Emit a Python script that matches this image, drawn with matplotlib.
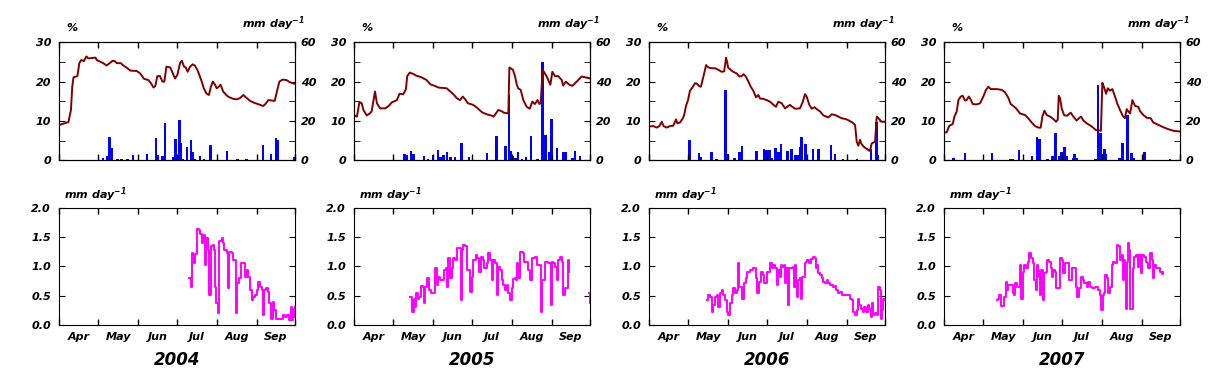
import numpy as np
import matplotlib
matplotlib.use("Agg")
import matplotlib.pyplot as plt

plt.rcParams["font.family"] = ["DejaVu Sans"]
plt.rcParams["font.weight"] = "bold"
plt.rcParams["font.style"] = "italic"
plt.rcParams["mathtext.fontset"] = "dejavusans"

years = ["2004", "2005", "2006", "2007"]
months = ["Apr", "May", "Jun", "Jul", "Aug", "Sep"]
month_edges = [0, 30, 61, 91, 122, 153, 183]

# soil moisture (%), day counted from 1 April
sm_day = {
    "2004": [0, 7, 9, 10, 11, 14, 15.5, 17, 19, 21, 22.5, 28, 29, 31.5, 34, 36.7, 39, 41.4, 43, 44.5, 47.6, 49.6,
             52, 55, 60, 62.6, 65.7, 69, 71, 73, 74.4, 76, 78, 80, 81.4, 83, 86, 88, 89.7, 91.5, 93.6, 95, 96.7,
             98, 99.5, 101.3, 103.4, 105, 107, 109, 110.4, 112, 114, 116, 117.4, 119, 120.7, 122, 123.3, 125,
             127, 130, 132, 135, 137.5, 140, 142.7, 145, 148, 150.4, 153, 155.6, 158, 159.5, 162, 164.7, 167,
             169, 170.6, 173, 176, 179, 183],
    "2005": [0, 2, 3.9, 5.7, 7, 9.6, 12, 13.4, 16, 17.5, 20, 24, 26.6, 29, 33, 35, 38, 40, 41, 43, 46, 48, 52, 56,
             59, 62.5, 65, 71.6, 74, 76.8, 79.4, 82, 84, 86, 88, 92, 95, 99, 102.6, 107, 108, 111.7, 114, 116,
             119.4, 120.2, 123, 124.6, 126, 127, 129, 131, 133.6, 136, 138, 140, 142, 143.5, 144.5, 146, 149,
             152, 153.5, 155.6, 158, 160.8, 162, 164, 166.7, 169, 172.4, 176.3, 179, 183],
    "2006": [0, 3, 5.7, 7.8, 9.6, 11, 13.4, 16, 18.6, 20.7, 21.7, 23.8, 26, 27, 28.4, 30, 31.5, 33.6, 35.4, 36.7,
             38.5, 40, 42, 44, 45.8, 48.3, 51, 53.5, 56, 58, 59.5, 60.5, 61, 63, 65, 67.7, 69.8, 71.6, 73, 74.6,
             76.8, 78.6, 80.6, 82.7, 84.5, 85.8, 88.4, 91, 93.6, 96.2, 98.2, 100, 102.6, 105.2, 109, 110.4, 113,
             116.8, 119, 120.7, 122, 124, 125.9, 128, 129.8, 132.4, 135, 138.8, 141.4, 144, 146.6, 149, 153, 157,
             159.5, 160.8, 162, 163.4, 164.2, 166, 168.5, 170.6, 171.4, 172.4, 175, 176.3, 177.6, 180, 183],
    "2007": [0, 1.8, 3.9, 6.5, 7.8, 9.6, 10.9, 12.7, 14.2, 16, 17.3, 19, 20.7, 22, 25, 27.7, 30.2, 32.3, 34.1, 36,
             40.6, 44.5, 47, 49.6, 51.4, 53.5, 55.6, 58.7, 62.6, 65, 67.7, 70.3, 72.9, 74.7, 76, 77.6, 79.4, 82,
             84.5, 86.6, 87.9, 88.7, 89.7, 91, 92.8, 95, 98, 100, 102.6, 104.4, 106, 107.8, 110.4, 114.3, 117.4,
             121.4, 122.5, 123.8, 125.4, 126.7, 128.5, 130.3, 132.3, 134.2, 136.2, 138.3, 140, 141.4, 142.7, 144,
             145.8, 147.9, 150.4, 151.7, 154.3, 157, 160, 162, 166, 169.8, 173.7, 177.6, 183],
}
sm_val = {
    "2004": [9.0, 9.7, 12.8, 18.7, 21.1, 21.4, 24.7, 25.5, 25.2, 26.4, 25.9, 26.1, 25.5, 25.1, 24.7, 24.1, 24.7,
             25.3, 25.2, 24.7, 24.7, 24.1, 23.6, 22.8, 22.7, 22.1, 20.7, 20.4, 19.6, 18.5, 18.9, 21.4, 21.4, 20.0,
             20.0, 23.8, 23.6, 22.1, 20.8, 21.7, 24.7, 25.3, 23.8, 23.6, 22.5, 23.8, 24.4, 24.1, 23.0, 21.3, 20.0,
             18.3, 17.0, 16.6, 18.6, 20.0, 19.2, 18.3, 18.6, 19.2, 17.5, 16.4, 16.0, 15.6, 15.5, 15.8, 16.6, 15.9,
             15.1, 14.7, 14.4, 14.1, 13.8, 14.2, 15.3, 15.2, 15.1, 17.9, 20.0, 20.5, 20.4, 19.8, 19.4],
    "2005": [11.4, 11.1, 14.7, 14.5, 12.8, 11.4, 11.9, 12.4, 17.5, 14.5, 13.2, 13.2, 13.8, 14.7, 15.3, 16.9, 16.8,
             18.1, 21.4, 22.3, 21.9, 21.5, 21.1, 20.4, 19.3, 18.9, 18.5, 18.3, 17.6, 16.8, 15.8, 15.3, 16.2, 15.5,
             14.5, 14.1, 13.4, 12.2, 11.7, 11.3, 11.1, 12.8, 12.5, 12.1, 11.9, 23.6, 23.0, 21.3, 19.2, 18.3, 17.9,
             15.3, 13.6, 13.1, 14.9, 14.3, 15.3, 14.3, 14.6, 23.0, 21.4, 19.2, 22.5, 21.4, 21.4, 20.4, 19.0, 20.0,
             19.2, 18.9, 20.0, 21.3, 21.1, 20.8],
    "2006": [8.6, 8.7, 8.3, 8.7, 9.8, 8.7, 8.3, 8.7, 8.8, 10.4, 9.4, 9.6, 10.7, 11.5, 13.8, 15.3, 17.7, 18.6, 19.6,
             19.5, 18.9, 18.7, 21.4, 24.2, 23.6, 23.4, 23.4, 23.0, 22.5, 22.6, 26.1, 24.7, 23.6, 23.0, 22.5, 22.1,
             21.3, 21.4, 21.9, 21.4, 20.0, 18.7, 17.7, 16.0, 16.6, 15.7, 15.6, 15.3, 14.9, 14.1, 13.6, 14.9, 14.5,
             13.2, 14.1, 13.7, 13.1, 13.2, 14.9, 16.8, 16.2, 14.1, 13.1, 13.5, 13.0, 12.4, 11.4, 10.9, 11.7, 11.5,
             11.1, 10.7, 10.4, 9.7, 9.0, 4.7, 3.7, 5.2, 4.3, 3.5, 2.9, 2.4, 2.8, 4.3, 4.7, 11.1, 10.7, 9.8, 9.8],
    "2007": [7.1, 7.1, 8.8, 9.2, 11.1, 12.4, 15.3, 16.2, 16.4, 15.2, 15.3, 16.2, 15.3, 14.3, 14.2, 14.5, 16.2, 17.9,
             18.7, 18.1, 18.1, 17.9, 17.3, 15.9, 14.3, 13.8, 13.2, 11.9, 11.5, 10.7, 9.6, 8.7, 8.3, 8.3, 11.1, 12.6,
             11.5, 11.1, 10.5, 9.8, 10.3, 16.4, 15.8, 13.2, 11.5, 11.3, 12.1, 11.1, 10.1, 10.7, 11.1, 10.1, 9.4, 8.6,
             7.7, 7.5, 19.7, 18.6, 16.9, 18.3, 17.7, 18.1, 16.2, 14.3, 12.8, 11.3, 10.7, 13.0, 12.4, 11.9, 15.3,
             13.8, 13.6, 12.5, 11.5, 10.8, 10.7, 9.6, 9.0, 8.4, 7.9, 7.5, 7.3],
}

# precipitation (mm day-1)
rain_day = {
    "2004": [34, 37, 39, 40.5, 45, 48, 53, 57, 68, 75, 76.5, 80, 82, 88.5, 90, 93, 94, 96, 99, 102, 103.5, 105,
             109, 112, 117, 130, 138, 145, 158, 164, 168, 169.5, 182],
    "2005": [39, 40.5, 44, 46, 54, 57, 61, 65, 67, 69, 72, 74.5, 78, 83, 89, 103, 110, 117, 120, 121.5, 123,
             125, 127, 130, 133, 137, 142, 146, 148, 151.5, 153, 157, 162, 164, 169, 171, 175],
    "2006": [31, 38.5, 40, 48, 52, 59, 61, 66, 70, 72, 83, 89, 91, 93, 95, 98, 100, 102, 107, 110, 113, 115,
             117, 118, 121, 127, 131, 141, 144, 150, 161, 172, 176, 177],
    "2007": [7, 16, 37, 51, 53, 58, 68, 72, 74, 80, 84, 86, 89, 91, 93, 95, 100, 101, 103, 117, 119, 121, 122.5,
             124, 125.5, 136, 138, 142, 145, 147, 155, 175],
}
rain_val = {
    "2004": [1.2, 2.4, 11.9, 6.3, 0.7, 0.7, 0.7, 2.7, 3.2, 11.4, 2.5, 2.2, 19.0, 1.5, 10.8, 20.5, 9.0, 0.7, 6.8,
             10.3, 4.2, 0.8, 2.2, 0.7, 7.8, 4.7, 0.7, 0.8, 7.8, 3.4, 11.5, 10.3, 1.9],
    "2005": [3.2, 2.7, 4.7, 3.0, 2.2, 0.8, 2.7, 5.3, 1.8, 2.7, 4.2, 1.8, 1.9, 8.8, 1.9, 3.7, 12.4, 7.3, 33.2, 4.7,
             2.2, 1.2, 4.2, 0.8, 1.7, 12.4, 0.7, 50.2, 12.9, 4.4, 21.0, 6.3, 4.2, 4.2, 1.0, 4.7, 2.4],
    "2006": [10.3, 3.6, 1.7, 4.1, 0.5, 35.8, 3.2, 1.0, 4.2, 7.3, 4.7, 5.8, 5.3, 5.3, 1.4, 6.3, 4.1, 8.3, 4.7, 5.8,
             2.5, 2.5, 6.9, 12.0, 8.3, 5.8, 5.8, 7.8, 3.2, 0.7, 0.7, 5.8, 19.5, 2.7],
    "2007": [1.2, 3.7, 3.7, 0.7, 0.7, 5.3, 2.2, 11.9, 11.0, 0.7, 2.2, 13.7, 2.2, 4.2, 6.8, 2.2, 1.0, 3.2, 1.2, 0.5,
             38.3, 14.1, 3.2, 5.8, 3.2, 1.2, 8.8, 23.0, 3.7, 1.2, 4.2, 0.7],
}

# evapotranspiration (mm day-1)
et_day = {
    "2004": [100.6, 101.5, 102, 103, 104, 104.7, 105.5, 106.5, 107, 108.5, 109, 110.4, 111, 112, 113, 113.7,
             115, 115.5, 116.3, 117.4, 119, 120, 120.7, 121.5, 122.8, 123.6, 124, 126, 127, 128, 129.8, 130.8,
             131.8, 133.6, 135, 136, 137, 138, 139.6, 141, 143, 144, 145.3, 146.5, 148, 149, 150.4, 151.7, 153,
             154.3, 155.6, 157, 157.7, 158.7, 160, 161.6, 162.9, 163.9, 165.4, 166.7, 168, 171, 173.2, 175,
             176.8, 178.4, 179.4, 180.4, 181.4, 182.3, 183],
    "2005": [43.2, 44.5, 46, 47, 47.8, 49, 50.4, 51.7, 53, 54, 55, 56.6, 57.9, 59.2, 61.3, 62.3, 63.8, 65, 66.4,
             68.4, 69.5, 71, 72, 73, 74.2, 75.5, 76.8, 78.4, 79.4, 81.4, 82.5, 83.2, 84.5, 86, 87, 88.4, 89.7, 91,
             92.3, 94, 95.4, 96.7, 98, 99.4, 100.8, 102.6, 104, 105.2, 106.5, 107.8, 109, 110.4, 111.7, 113,
             114.3, 115.6, 116.8, 118.1, 119.4, 120.7, 122, 123.3, 124.6, 125.2, 125.9, 127.2, 128.5, 130.5,
             131.8, 133.6, 135, 136.2, 137.5, 138.8, 140, 141.4, 143.5, 144.5, 145.8, 147.9, 149.2, 150.4, 152.3,
             153, 154.3, 155.6, 157, 158.2, 159.5, 160.8, 162, 163.4, 164.5, 165.4, 166.2, 166.6, 181.7, 182.5,
             183],
    "2006": [44.5, 45.8, 47, 48.3, 49.6, 51, 52.2, 53.5, 54.8, 56, 57.4, 58.7, 60, 61.3, 62.6, 63.8, 65.2, 66.5,
             67.7, 68.5, 69.6, 70.8, 72.1, 73.4, 74.7, 76, 78, 80.1, 81.4, 82.5, 83.8, 85, 86.3, 87.9, 89.2, 91,
             92.3, 93.6, 94.9, 96.2, 97.5, 98.7, 100, 101.3, 102, 103.1, 104.4, 105.2, 106.1, 107.3, 108.6, 110,
             111.2, 112.2, 113, 113.7, 114.8, 115.6, 116.8, 117.6, 118.4, 119.4, 120.5, 121.5, 122.5, 123.8, 125,
             127.2, 128.4, 129.2, 130, 130.8, 132.4, 133.6, 135, 136.2, 137.5, 138.8, 140.1, 142.7, 144, 144.8,
             146.6, 148, 149.2, 154.3, 155.6, 157.2, 158.2, 159.5, 160.8, 161.6, 162.9, 164.2, 165.4, 166.7, 168,
             169.3, 170.6, 171.6, 172.7, 173.7, 175, 176.3, 177.6, 178.9, 179.4, 180.4, 181.5, 183],
    "2007": [40.6, 41.9, 42.7, 43.7, 45.8, 46.5, 47.6, 48.3, 49.6, 52.2, 53, 54, 54.8, 56.6, 57.9, 58.7, 59.7,
             60.7, 61.8, 63.3, 64.6, 65.9, 67.2, 68.5, 69.8, 70.8, 71.6, 72.6, 73.4, 74.2, 75, 76.3, 77.3, 78.6,
             79.9, 81.2, 82.4, 83.2, 84.5, 85.6, 86.3, 88.4, 89.7, 91, 92.3, 93.6, 95.4, 96.7, 98, 99.3, 100.6,
             101.9, 103.1, 104.4, 106, 107.3, 108.6, 110.4, 111.7, 113, 114.3, 116.8, 119.4, 120.7, 121.5, 122.8,
             123.8, 124.6, 125.9, 127.2, 128.5, 129.8, 131, 132.3, 133.6, 135, 136.2, 137.5, 138.3, 139.3, 140.1,
             140.9, 141.9, 142.7, 143.5, 144, 145.3, 146, 147.1, 148.6, 149.9, 150.9, 152.2, 153.5, 154.8, 156.1,
             157.2, 158.2, 159.5, 160.8, 161.6, 162.9, 164.1, 165.9, 167.2, 168.5, 169.8],
}
et_val = {
    "2004": [0.81, 0.81, 0.65, 1.22, 1.2, 1.05, 1.21, 1.48, 1.63, 1.62, 1.55, 1.39, 1.52, 1.53, 1.02, 1.48, 1.48,
             1.28, 0.51, 1.34, 1.36, 1.28, 0.65, 0.38, 0.2, 1.11, 1.43, 1.48, 1.39, 1.28, 1.22, 0.63, 1.25, 1.23,
             1.11, 1.11, 0.21, 0.71, 0.8, 1.05, 1.05, 0.82, 0.94, 0.82, 0.6, 0.43, 0.48, 0.51, 0.6, 0.74, 0.65, 0.6,
             0.17, 0.6, 0.63, 0.57, 0.37, 0.11, 0.4, 0.26, 0.11, 0.11, 0.17, 0.13, 0.17, 0.085, 0.31, 0.085, 0.28,
             0.14, 0.31],
    "2005": [0.48, 0.22, 0.44, 0.31, 0.54, 0.45, 0.48, 0.67, 0.65, 0.37, 0.65, 0.8, 0.6, 0.54, 0.54, 0.97, 0.68,
             0.82, 0.77, 0.77, 0.94, 0.97, 0.65, 1.14, 0.8, 0.97, 1.14, 1.11, 1.31, 1.31, 0.43, 1.28, 1.36, 1.34,
             0.94, 0.94, 0.57, 0.82, 1.11, 1.19, 1.14, 0.91, 1.16, 1.11, 0.97, 1.05, 1.22, 1.11, 0.77, 1.11, 1.05,
             0.51, 0.99, 0.94, 0.77, 0.68, 0.6, 0.68, 0.54, 0.43, 0.63, 0.78, 0.8, 0.77, 1.05, 0.8, 1.25, 1.22,
             1.08, 1.08, 0.94, 0.77, 1.14, 1.14, 1.16, 1.02, 1.02, 0.23, 0.77, 1.08, 1.08, 1.05, 0.34, 1.08, 1.05,
             0.99, 0.77, 1.11, 1.16, 1.08, 0.51, 0.63, 0.63, 1.11, 0.91, np.nan, 0.54, 0.54, 0.37],
    "2006": [0.43, 0.51, 0.47, 0.23, 0.34, 0.48, 0.51, 0.31, 0.54, 0.6, 0.51, 0.43, 0.23, 0.17, 0.37, 0.51, 0.63,
             0.54, 0.6, 1.06, 0.65, 0.65, 0.45, 0.71, 0.8, 0.91, 0.94, 0.97, 0.97, 0.8, 0.54, 0.74, 0.91, 0.85,
             0.71, 0.91, 0.91, 1.05, 0.97, 1.02, 0.97, 0.68, 0.94, 0.82, 1.02, 0.99, 1.02, 0.71, 0.97, 0.34, 0.97,
             0.97, 0.99, 0.65, 1.02, 0.65, 0.48, 0.77, 0.8, 0.45, 0.82, 0.82, 1.05, 1.08, 1.11, 1.05, 1.12, 1.16,
             1.15, 0.97, 1.02, 0.88, 0.85, 0.8, 0.74, 0.71, 0.77, 0.71, 0.68, 0.65, 0.66, 0.6, 0.54, 0.57, 0.51,
             0.51, 0.45, 0.43, 0.23, 0.17, 0.26, 0.45, 0.34, 0.28, 0.23, 0.31, 0.23, 0.34, 0.28, 0.14, 0.37, 0.17,
             0.2, 0.17, 0.65, 0.6, 0.11, 0.26, 0.45, 0.43],
    "2007": [0.43, 0.44, 0.51, 0.32, 0.32, 0.48, 0.74, 0.6, 0.68, 0.68, 0.54, 0.51, 0.71, 0.64, 0.65, 1.02, 0.45,
             0.91, 1.02, 0.97, 1.08, 1.22, 1.14, 1.05, 0.77, 0.6, 1.02, 0.94, 0.82, 0.51, 0.94, 0.43, 0.88, 0.91,
             1.11, 1.08, 0.97, 0.82, 0.94, 0.91, 0.63, 0.63, 1.14, 1.11, 0.88, 1.05, 1.05, 0.77, 0.77, 0.97, 0.97,
             0.65, 0.48, 0.63, 0.82, 0.77, 0.71, 0.65, 0.74, 0.65, 0.63, 0.65, 0.6, 0.51, 0.26, 0.51, 0.54, 0.85,
             0.8, 0.54, 0.65, 1.02, 1.08, 1.06, 1.36, 1.34, 1.11, 1.19, 0.77, 1.11, 0.94, 0.28, 1.08, 1.39, 1.28,
             0.28, 0.28, 0.97, 1.16, 1.19, 0.99, 1.19, 0.88, 1.19, 1.16, 1.08, 1.05, 0.97, 1.22, 1.11, 0.8, 1.02,
             0.97, 0.97, 0.91, 0.87, 0.91],
}

fig = plt.figure(figsize=(12.16, 3.84), dpi=100)
lefts = [0.0488, 0.2914, 0.5340, 0.7766]
w = 0.1941
tick_font = dict(fontsize=8, fontweight="bold", fontstyle="italic")
unit = r"mm day$^{-1}$"


def style_x(ax, labels):
    ax.set_xlim(0, 183)
    ax.set_xticks(month_edges)
    ax.set_xticklabels([])
    if labels:
        mids = [(a + b) / 2 for a, b in zip(month_edges[:-1], month_edges[1:])]
        ax.set_xticks(mids, minor=True)
        ax.set_xticklabels(months, minor=True, **tick_font)
        ax.tick_params(axis="x", which="minor", length=0, pad=5)
    ax.tick_params(axis="x", which="major", direction="in", length=4, top=True, bottom=True, width=1)


for i, yr in enumerate(years):
    # top: soil moisture + rain
    ax = fig.add_axes([lefts[i], 0.5826, w, 0.3073])
    ax2 = ax.twinx()
    ax2.bar(rain_day[yr], rain_val[yr], width=2, color="#0000ff", zorder=1)
    ax2.set_ylim(0, 60)
    ax2.set_yticks([0, 20, 40, 60])
    ax2.set_yticks([10, 30, 50], minor=True)
    ax2.set_yticklabels(["0", "20", "40", "60"], **tick_font)
    ax2.tick_params(axis="y", which="both", direction="in", length=4, pad=4)
    ax.set_zorder(ax2.get_zorder() + 1)
    ax.patch.set_visible(False)
    ax.plot(sm_day[yr], sm_val[yr], color="#800000", lw=1.4)
    ax.set_ylim(0, 30)
    ax.set_yticks([0, 10, 20, 30])
    ax.set_yticks([5, 15, 25], minor=True)
    ax.set_yticklabels(["0", "10", "20", "30"], **tick_font)
    ax.tick_params(axis="y", which="both", direction="in", length=4, pad=6, right=False)
    style_x(ax, False)
    ax.text(0.03, 1.08, "%", transform=ax.transAxes, ha="left", va="bottom", **tick_font)
    ax.text(1.04, 1.08, unit, transform=ax.transAxes, ha="right", va="bottom", **tick_font)

    # bottom: evapotranspiration
    bx = fig.add_axes([lefts[i], 0.1536, w, 0.3055])
    bx.plot(et_day[yr], et_val[yr], color="#ff00ff", lw=1.4, drawstyle="steps-post")
    bx.set_ylim(0, 2.0)
    bx.set_yticks([0, 0.5, 1.0, 1.5, 2.0])
    bx.set_yticklabels(["0.0", "0.5", "1.0", "1.5", "2.0"], **tick_font)
    bx.tick_params(axis="y", direction="in", length=4, pad=6, right=True)
    style_x(bx, True)
    bx.text(0.02, 1.03, unit, transform=bx.transAxes, ha="left", va="bottom", **tick_font)
    bx.text(0.5, -0.30, yr, transform=bx.transAxes, ha="center", va="center", fontsize=12,
            fontweight="bold", fontstyle="italic")

fig.savefig("out.png", dpi=100)
